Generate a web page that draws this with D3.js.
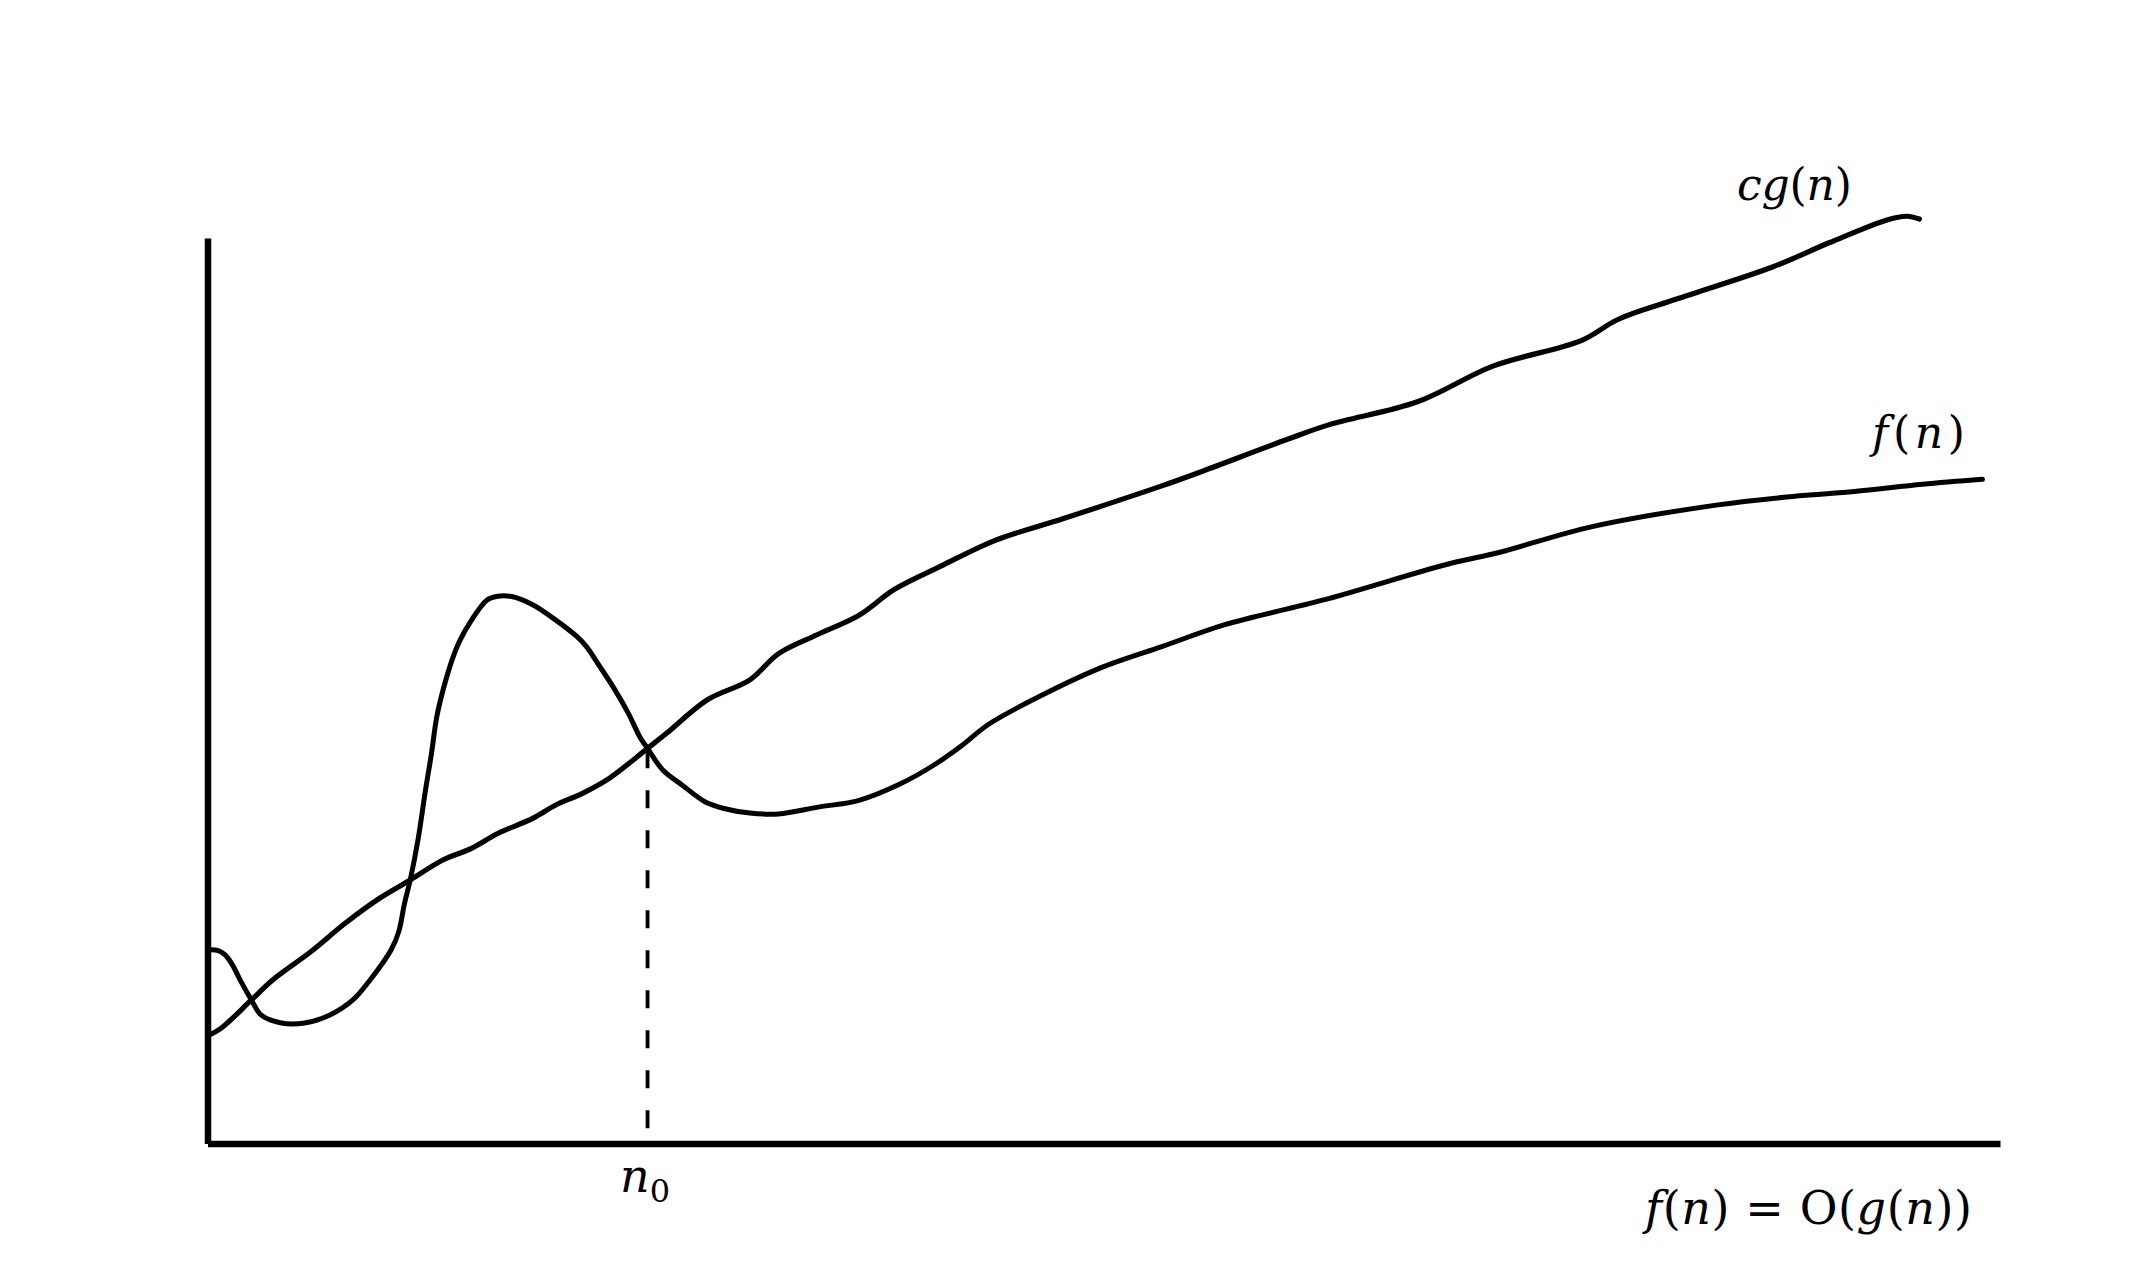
<!DOCTYPE html>
<html>
<head>
<meta charset="utf-8">
<script src="https://cdn.jsdelivr.net/npm/d3@7"></script>
<style>
  body { margin: 0; background: #fff; }
  svg { display: block; }
</style>
</head>
<body>
<svg id="chart" width="2134" height="1280"></svg>
<script>
// curve c*g(n): [n, value]
const cgCurve = [
  [1, 120], [7.4, 127], [24.5, 158.5], [36.3, 180.6], [57.6, 211.8], [76.8, 243.2],
  [96, 270.8], [113.1, 291], [131.3, 313.1], [147.3, 326], [162.2, 342.6], [181.4, 359.1],
  [194.3, 373.8], [209.2, 386.7], [224.1, 403.3], [245.5, 436.4], [256.1, 453], [278.7, 489.8],
  [302.6, 512], [318.6, 541], [340.7, 562.4], [363.5, 583.4], [383.3, 612], [409.1, 637.6],
  [439.5, 666.1], [477.6, 690.2], [532.8, 726.5], [553.6, 741.3], [602.5, 777.7], [625.9, 793.9],
  [675.4, 819.4], [717.1, 858.5], [766.7, 887], [786.8, 910], [817, 931], [873.1, 968],
  [905, 995], [937, 1020], [948, 1024], [955, 1021]
];

// curve f(n): [n, value]
const fCurve = [
  [2, 214], [6, 213], [10, 208], [14, 197], [18.1, 181], [24.5, 158.5], [29.8, 142], [40.5, 133.4],
  [53.3, 132.7], [68.3, 141.9], [81.1, 158.5], [90.7, 180.6], [102.4, 213.7], [106.7, 234],
  [109.9, 265], [113.1, 291], [117.4, 335], [121.6, 390], [124.9, 430], [127.8, 470], [131.3, 500],
  [136.6, 535], [140.9, 556], [147.3, 578], [155.8, 600], [161.1, 604], [169.7, 604], [181.4, 595],
  [194.3, 578], [206, 560], [211.3, 549], [218.8, 527], [227.3, 501], [234.8, 475], [241.2, 449],
  [245.5, 436.4], [254, 412.5], [264.7, 396], [277.5, 377.5], [288.1, 370], [302.6, 365],
  [318.6, 364], [340.7, 371.5], [363.5, 379], [386.3, 397], [405.3, 418], [420.5, 439],
  [435.8, 463], [462.4, 492], [497.9, 525], [532.8, 549], [567.6, 573], [622.1, 600],
  [692.2, 640], [721, 653], [771.9, 681], [841.6, 705], [886.4, 715], [918.8, 720],
  [956.8, 728], [990.2, 733.5]
];

// crossing point n0 where the dashed drop line starts
const n0 = [245.5, 436.4];

// label pieces: [text, italic]
const cgLabel = [['cg', true], ['(', false], ['n', true], [')', false]];
const fLabel = [['f', true], ['(', false], ['n', true], [')', false]];
const bigOLabel = [
  ['f', true], ['(', false], ['n', true], [')', false], [' = ', false], ['O', false],
  ['(', false], ['g', true], ['(', false], ['n', true], ['))', false]
];

const svg = d3.select('#chart');
svg.append('rect').attr('width', 2134).attr('height', 1280).attr('fill', '#fff');

const x = d3.scaleLinear().domain([0, 1000]).range([207.5, 2000]);
const y = d3.scaleLinear().domain([0, 1000]).range([1143.5, 238]);

const line = d3.line()
  .x(d => x(d[0]))
  .y(d => y(d[1]))
  .curve(d3.curveCatmullRom.alpha(0.5));

// axes, no ticks
svg.append('g')
  .attr('transform', `translate(0,${y(0)})`)
  .call(d3.axisBottom(x).tickValues([]).tickSizeOuter(0))
  .call(g => g.select('.domain').attr('stroke', '#000').attr('stroke-width', 6.5));

svg.append('g')
  .attr('transform', `translate(${x(0)},0)`)
  .call(d3.axisLeft(y).tickValues([]).tickSizeOuter(0))
  .call(g => g.select('.domain').attr('stroke', '#000').attr('stroke-width', 6.5));

// dashed drop line at n0
svg.append('line')
  .attr('x1', x(n0[0])).attr('x2', x(n0[0]))
  .attr('y1', y(n0[1]) + 2).attr('y2', y(0))
  .attr('stroke', '#000')
  .attr('stroke-width', 3.8)
  .attr('stroke-dasharray', '18 22');

svg.append('path')
  .datum(cgCurve)
  .attr('d', line)
  .attr('fill', 'none')
  .attr('stroke', '#000')
  .attr('stroke-width', 5.2)
  .attr('stroke-linecap', 'round');

svg.append('path')
  .datum(fCurve)
  .attr('d', line)
  .attr('fill', 'none')
  .attr('stroke', '#000')
  .attr('stroke-width', 5)
  .attr('stroke-linecap', 'round');

function mathText(pieces, px, py, size, width) {
  const t = svg.append('text')
    .attr('x', px).attr('y', py)
    .attr('font-family', '"DejaVu Serif", serif')
    .attr('font-size', size)
    .attr('fill', '#000')
    .attr('xml:space', 'preserve');
  pieces.forEach(([s, it]) => {
    t.append('tspan').attr('font-style', it ? 'italic' : 'normal').text(s);
  });
  if (width) t.attr('textLength', width).attr('lengthAdjust', 'spacing');
  return t;
}

mathText(cgLabel, 1737, 200, 44, 115);
mathText(fLabel, 1872, 448, 44, 93);
mathText(bigOLabel, 1645, 1224, 46, 327);

// n0 tick label
const nl = svg.append('text')
  .attr('x', 620).attr('y', 1192)
  .attr('font-family', '"DejaVu Serif", serif')
  .attr('font-size', 46)
  .attr('fill', '#000');
nl.append('tspan').attr('font-style', 'italic').text('n');
nl.append('tspan').attr('font-size', 32).attr('dy', 10).text('0');
</script>
</body>
</html>
